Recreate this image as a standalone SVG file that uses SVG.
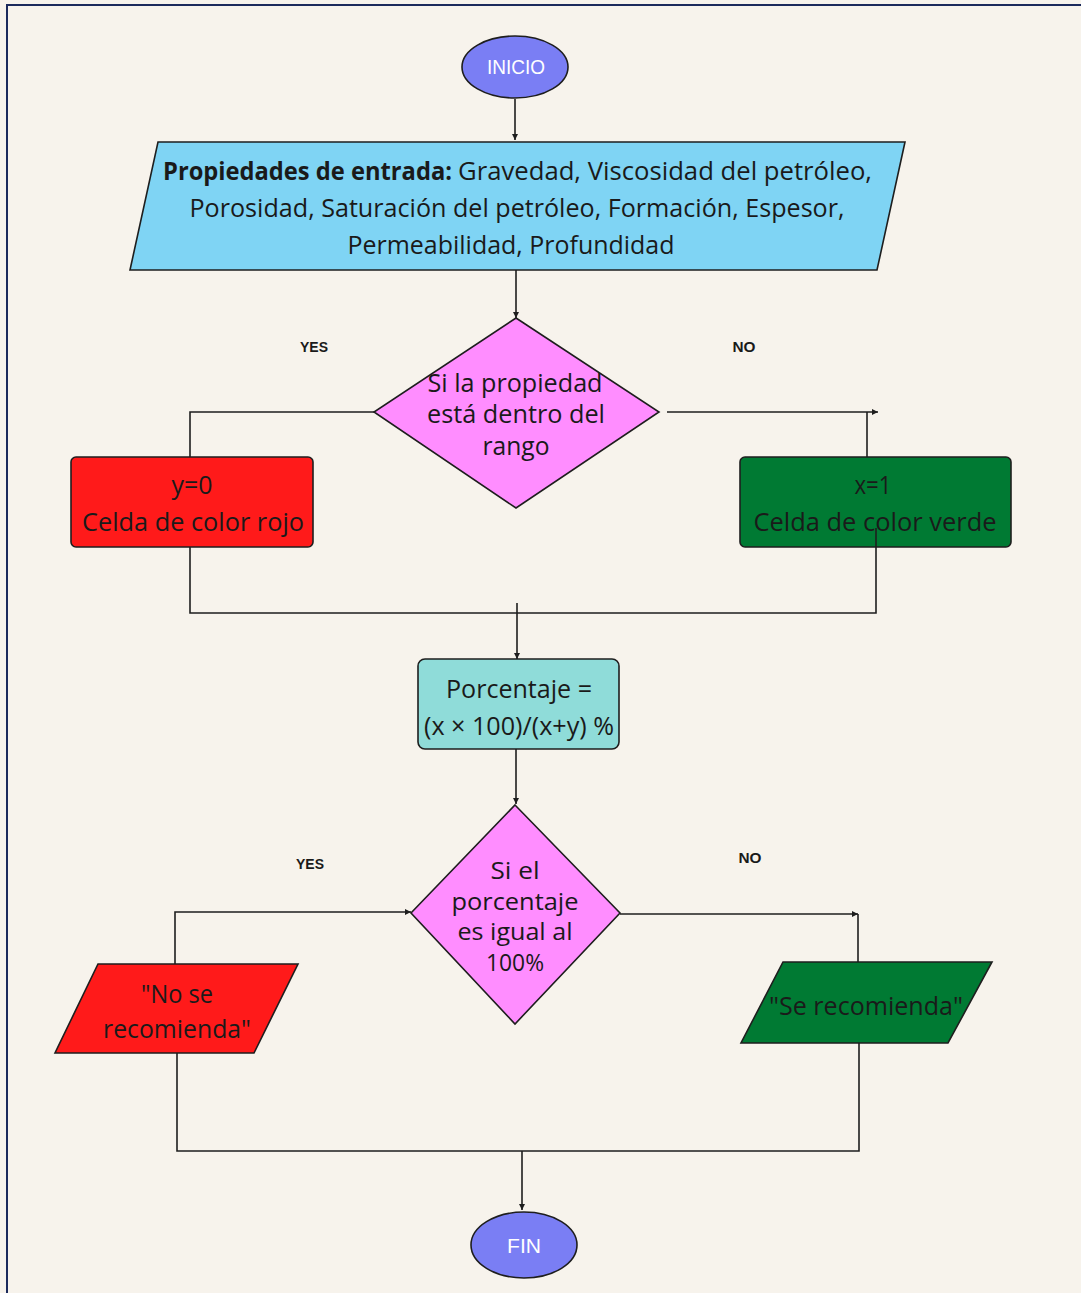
<svg xmlns="http://www.w3.org/2000/svg" width="1081" height="1293" viewBox="0 0 1081 1293">
<style>
.n{stroke:#1e1e1e;stroke-width:1.6}
.t{font-family:"Open Sans","Liberation Sans",sans-serif;font-size:25px;fill:#1a1a1a;text-anchor:middle;dominant-baseline:central}
.s{font-size:23px}
.w{font-family:"Liberation Sans",sans-serif;font-size:20px;fill:#fff;text-anchor:middle;dominant-baseline:central}
.l{font-family:"Liberation Sans",sans-serif;font-size:14px;font-weight:bold;fill:#1a1a1a;text-anchor:middle;dominant-baseline:central}
.c{fill:none;stroke:#1e1e1e;stroke-width:1.6}
</style>
<defs>
<marker id="a" viewBox="0 0 10 10" refX="10" refY="5" markerWidth="6" markerHeight="6" orient="auto" markerUnits="userSpaceOnUse"><path d="M0,0L10,5L0,10z" fill="#1e1e1e"/></marker>
</defs>
<rect x="0" y="0" width="1081" height="1293" fill="#f7f3ec"/>
<rect x="7" y="5" width="1085" height="1300" fill="none" stroke="#1b2a5c" stroke-width="2"/>
<g id="inicio">
<ellipse class="n" cx="515" cy="67" rx="53" ry="31" fill="#7a7ef4"/>
<text class="w" x="516" y="67" textLength="58" lengthAdjust="spacingAndGlyphs">INICIO</text>
</g>
<g id="entrada">
<polygon class="n" points="158,142 905,142 877,270 130,270" fill="#7fd4f4"/>
<text class="t" y="170" style="text-anchor:start"><tspan x="163" font-weight="bold" textLength="289" lengthAdjust="spacingAndGlyphs">Propiedades de entrada:</tspan><tspan x="458" textLength="414" lengthAdjust="spacingAndGlyphs">Gravedad, Viscosidad del petróleo,</tspan></text>
<text class="t" x="517" y="207" textLength="655" lengthAdjust="spacingAndGlyphs">Porosidad, Saturación del petróleo, Formación, Espesor,</text>
<text class="t" x="511" y="244" textLength="327" lengthAdjust="spacingAndGlyphs">Permeabilidad, Profundidad</text>
</g>
<g id="decision1">
<polygon class="n" points="516,318 659,412 516,508 374,412" fill="#ff8dff"/>
<text class="t" x="515" y="382" textLength="175" lengthAdjust="spacingAndGlyphs">Si la propiedad</text>
<text class="t" x="516" y="413" textLength="178" lengthAdjust="spacingAndGlyphs">está dentro del</text>
<text class="t" x="516" y="445" textLength="67" lengthAdjust="spacingAndGlyphs">rango</text>
</g>
<text class="l" x="314" y="347" textLength="28" lengthAdjust="spacingAndGlyphs">YES</text>
<text class="l" x="744" y="347" textLength="23" lengthAdjust="spacingAndGlyphs">NO</text>
<g id="rojo">
<rect class="n" x="71" y="457" width="242" height="90" rx="5" fill="#ff1a1a"/>
<text class="t" x="192" y="484" textLength="41" lengthAdjust="spacingAndGlyphs">y=0</text>
<text class="t" x="193" y="521" textLength="222" lengthAdjust="spacingAndGlyphs">Celda de color rojo</text>
</g>
<g id="verde">
<rect class="n" x="740" y="457" width="271" height="90" rx="5" fill="#007a33"/>
<text class="t" x="873" y="484" textLength="37" lengthAdjust="spacingAndGlyphs">x=1</text>
<text class="t" x="875" y="521" textLength="243" lengthAdjust="spacingAndGlyphs">Celda de color verde</text>
</g>
<g id="porcentaje">
<rect class="n" x="418" y="659" width="201" height="90" rx="7" fill="#8fdcd9"/>
<text class="t" x="519" y="688" textLength="146" lengthAdjust="spacingAndGlyphs">Porcentaje =</text>
<text class="t" x="519" y="725" textLength="190" lengthAdjust="spacingAndGlyphs">(x × 100)/(x+y) %</text>
</g>
<g id="decision2">
<polygon class="n" points="515,805 620,913 515,1024 411,913" fill="#ff8dff"/>
<text class="t s" x="515" y="870" textLength="49" lengthAdjust="spacingAndGlyphs">Si el</text>
<text class="t s" x="515" y="901" textLength="127" lengthAdjust="spacingAndGlyphs">porcentaje</text>
<text class="t s" x="515" y="931" textLength="115" lengthAdjust="spacingAndGlyphs">es igual al</text>
<text class="t s" x="515" y="962" textLength="58" lengthAdjust="spacingAndGlyphs">100%</text>
</g>
<text class="l" x="310" y="864" textLength="28" lengthAdjust="spacingAndGlyphs">YES</text>
<text class="l" x="750" y="858" textLength="23" lengthAdjust="spacingAndGlyphs">NO</text>
<g id="no-recomienda">
<polygon class="n" points="98,964 298,964 254,1053 55,1053" fill="#ff1a1a"/>
<text class="t" x="177" y="993" textLength="72" lengthAdjust="spacingAndGlyphs">"No se</text>
<text class="t" x="177" y="1028" textLength="148" lengthAdjust="spacingAndGlyphs">recomienda"</text>
</g>
<g id="recomienda">
<polygon class="n" points="783,962 992,962 948,1043 741,1043" fill="#007a33"/>
<text class="t" x="866" y="1005" textLength="194" lengthAdjust="spacingAndGlyphs">"Se recomienda"</text>
</g>
<g id="fin">
<ellipse class="n" cx="524" cy="1245" rx="53" ry="33" fill="#7a7ef4"/>
<text class="w" x="524" y="1246" textLength="34" lengthAdjust="spacingAndGlyphs">FIN</text>
</g>
<g id="connectors">
<line class="c" x1="515" y1="99" x2="515" y2="140" marker-end="url(#a)"/>
<line class="c" x1="516" y1="270" x2="516" y2="318" marker-end="url(#a)"/>
<polyline class="c" points="374,412 190,412 190,457"/>
<line class="c" x1="667" y1="412" x2="878" y2="412" marker-end="url(#a)"/>
<line class="c" x1="867" y1="412" x2="867" y2="457"/>
<polyline class="c" points="190,547 190,613 876,613 876,528"/>
<line class="c" x1="517" y1="603" x2="517" y2="659" marker-end="url(#a)"/>
<line class="c" x1="516" y1="749" x2="516" y2="804" marker-end="url(#a)"/>
<polyline class="c" points="175,964 175,912 411,912" marker-end="url(#a)"/>
<polyline class="c" points="620,914 858,914" marker-end="url(#a)"/>
<line class="c" x1="858" y1="914" x2="858" y2="962"/>
<polyline class="c" points="177,1053 177,1151 859,1151 859,1043"/>
<line class="c" x1="522" y1="1151" x2="522" y2="1210" marker-end="url(#a)"/>
</g>
</svg>
